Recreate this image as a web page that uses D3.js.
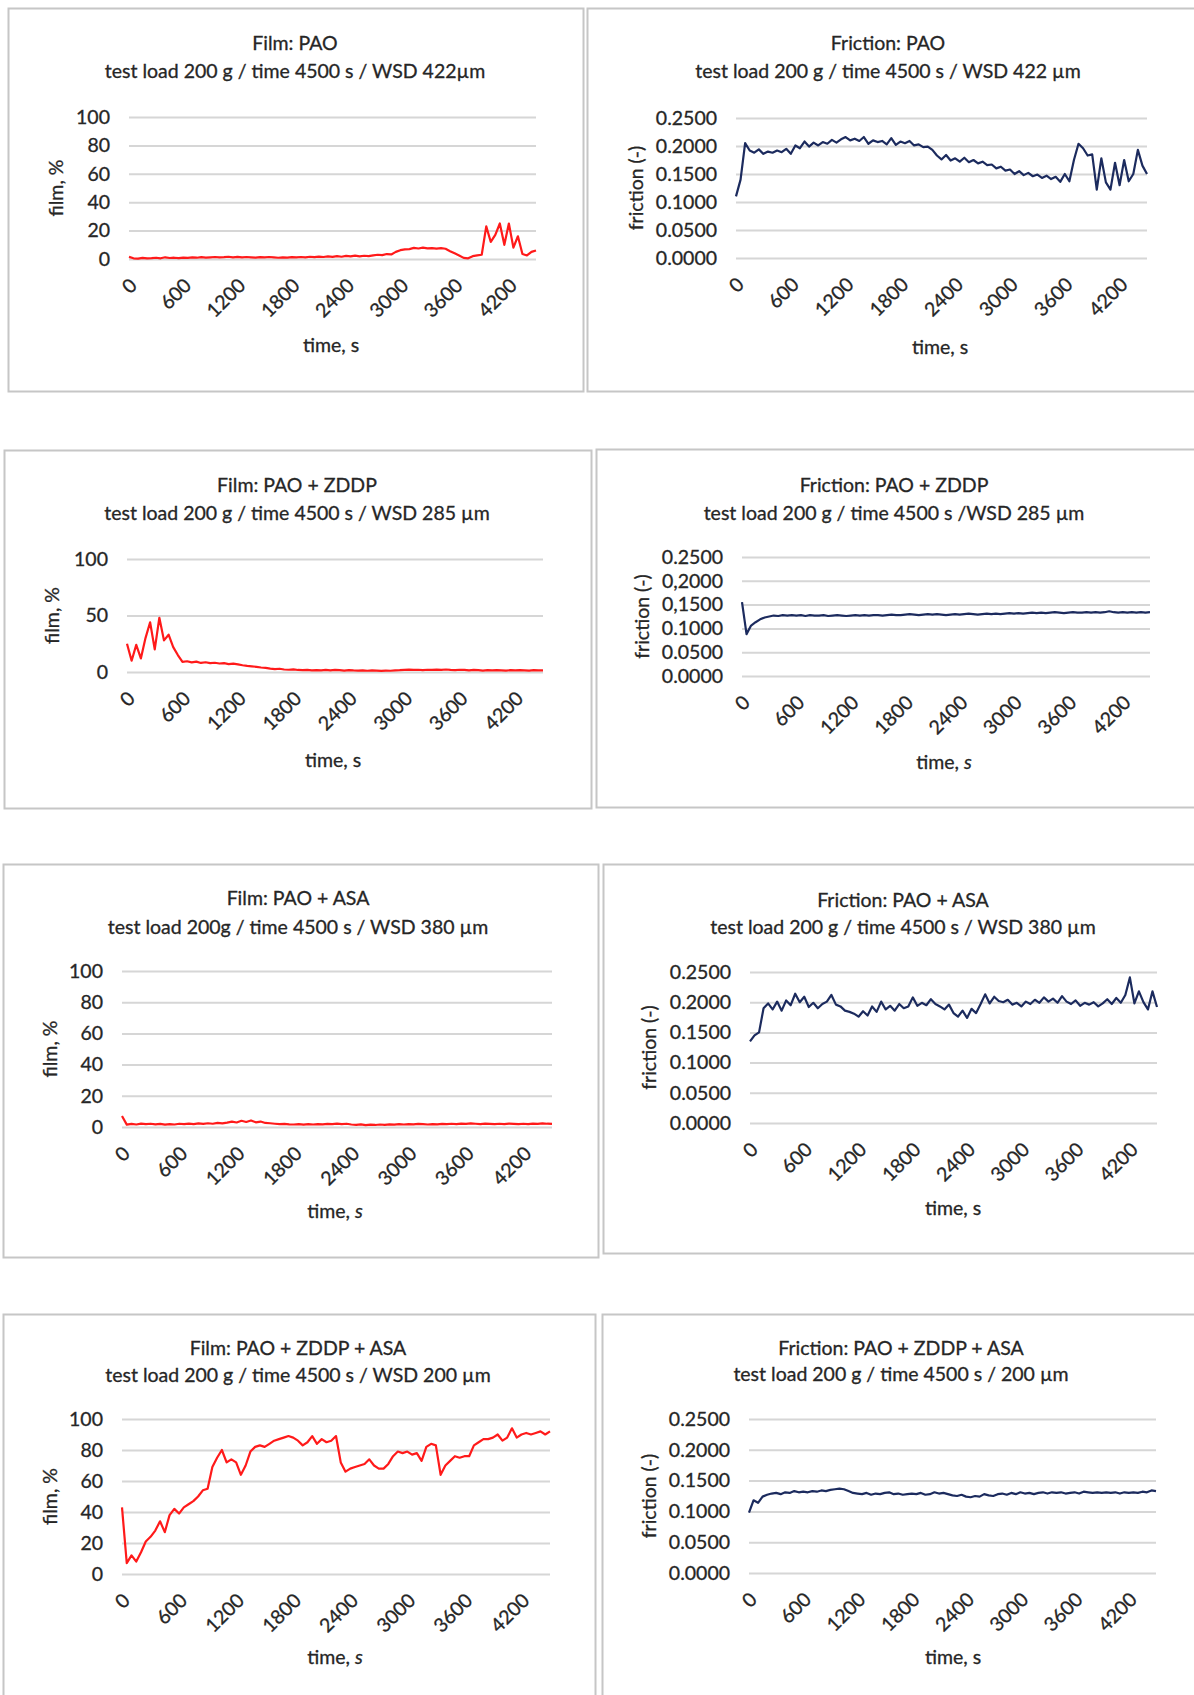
<!DOCTYPE html>
<html>
<head>
<meta charset="utf-8">
<script src="https://cdn.jsdelivr.net/npm/d3@7"></script>
<style>
  html, body { margin: 0; padding: 0; background: #ffffff; }
  svg { display: block; }
  text { font-family: Lato, "Open Sans", sans-serif; fill: #262626; stroke: #262626; stroke-width: 0.3px; }
</style>
</head>
<body>
<svg id="chart" width="1194" height="1695"></svg>
<script>
// Ball-on-disc runs, 200 g load, 4500 s; one reading every 50 s.
const TIME_MAX = 4500;
const timeTicks = [0, 600, 1200, 1800, 2400, 3000, 3600, 4200];
const filmTicks = [0, 20, 40, 60, 80, 100];
const filmTicksCoarse = [0, 50, 100];
const frictionTicks = [0, 0.05, 0.10, 0.15, 0.20, 0.25];
const frictionTickLabels = ["0.0000", "0.0500", "0.1000", "0.1500", "0.2000", "0.2500"];
const frictionTickLabelsAlt = ["0.0000", "0.0500", "0.1000", "0,1500", "0,2000", "0.2500"];

// film thickness, %
const filmPAO = [
  1.5, 0.5, 0.3, 0.8, 0.4, 0.6, 0.9, 0.5, 1.2, 0.7,
  0.9, 0.6, 1.0, 0.8, 1.1, 0.9, 1.3, 1.0, 1.2, 1.4,
  1.1, 1.3, 1.6, 1.2, 1.5, 1.1, 1.4, 1.2, 1.0, 1.3,
  1.1, 1.4, 1.2, 0.9, 1.2, 1.0, 1.3, 1.1, 1.4, 1.2,
  1.6, 1.3, 1.7, 1.4, 1.8, 1.5, 2.0, 1.6, 2.2, 1.8,
  2.4, 1.9, 2.3, 2.0, 2.6, 3.0, 2.7, 3.5, 3.2, 5.0,
  6.2, 6.8, 7.0, 7.8, 7.4, 8.0, 7.5, 7.7, 7.3, 7.6,
  7.2, 5.5, 4.0, 2.5, 0.8, 0.5, 2.0, 2.5, 3.0, 23.0,
  12.0, 17.0, 25.0, 10.0, 25.0, 8.0, 16.0, 3.5, 2.5, 5.0,
  6.0
];
const filmZDDP = [
  25, 10, 24, 12, 30, 44, 20, 48, 28, 33,
  22, 15, 9, 9.5, 8.5, 9.2, 8.0, 8.6, 7.8, 8.2,
  7.5, 7.8, 7.0, 7.4, 6.8, 6.0, 5.4, 5.0, 4.6, 4.0,
  3.6, 3.0, 2.6, 2.9, 2.2, 2.0, 2.4, 1.8, 1.6, 1.9,
  1.5, 1.7, 1.4, 1.8, 1.5, 1.9, 1.6, 1.3, 1.7, 1.4,
  1.2, 1.5, 1.1, 1.4, 1.2, 1.0, 1.3, 1.1, 1.4, 1.6,
  1.9, 2.1, 1.8, 2.0, 1.7, 2.0, 1.8, 2.1, 1.9, 2.2,
  1.9, 1.7, 2.0, 1.8, 1.5, 1.8, 1.6, 1.3, 1.6, 1.4,
  1.7, 1.5, 1.3, 1.6, 1.4, 1.7, 1.5, 1.3, 1.6, 1.4,
  1.5
];
const filmASA = [
  7.0, 1.5, 2.0, 1.6, 2.2, 1.8, 2.1, 1.7, 2.0, 1.5,
  1.9, 1.6, 2.1, 1.8, 2.2, 1.9, 2.3, 2.0, 2.4, 2.1,
  2.6, 2.3, 2.8, 3.4, 2.9, 4.0, 3.2, 4.2, 3.0, 3.5,
  2.6, 2.4, 2.1, 1.8, 2.0, 1.7, 1.6, 1.9, 1.5, 1.8,
  1.6, 1.9, 1.7, 2.0, 1.8, 2.2, 1.9, 2.1, 1.6, 1.4,
  1.7, 1.2, 1.5, 1.3, 1.6, 1.4, 1.7, 1.5, 1.8, 1.6,
  1.9, 1.7, 2.0, 1.8, 1.6, 1.9, 1.7, 2.0, 1.8, 2.1,
  1.9, 2.2, 2.0, 2.3, 2.1, 1.9, 2.2, 2.0, 1.8, 2.1,
  1.9, 2.2, 2.0, 1.8, 2.1, 1.9, 2.2, 2.0, 2.3, 2.1,
  2.0
];
const filmZDDPASA = [
  43, 7, 12, 8, 14, 21, 24, 28, 34, 27,
  38, 42, 39, 43, 45, 47, 50, 54, 55, 69,
  75, 80, 72, 74, 72, 64, 70, 79, 82, 83,
  82, 84, 86, 87, 88, 89, 88, 86, 83, 85,
  89, 84, 87, 85, 86, 89, 72, 66, 68, 69,
  70, 71, 74, 70, 68, 68, 71, 76, 79, 78,
  79, 77, 78, 73, 82, 84, 83, 64, 70, 73,
  76, 75, 76, 76, 83, 85, 87, 87, 88, 90,
  86, 88, 94, 88, 90, 91, 90, 91, 92, 90,
  92
];

// friction coefficient, -
const frictionPAO = [
  0.110, 0.140, 0.205, 0.192, 0.188, 0.194, 0.186, 0.190, 0.188, 0.192,
  0.189, 0.195, 0.186, 0.201, 0.196, 0.208, 0.199, 0.206, 0.201, 0.207,
  0.204, 0.211, 0.206, 0.212, 0.216, 0.210, 0.213, 0.209, 0.216, 0.204,
  0.210, 0.207, 0.209, 0.203, 0.214, 0.202, 0.208, 0.205, 0.209, 0.201,
  0.203, 0.198, 0.199, 0.193, 0.183, 0.176, 0.184, 0.174, 0.178, 0.172,
  0.179, 0.171, 0.175, 0.169, 0.172, 0.166, 0.167, 0.160, 0.163, 0.156,
  0.158, 0.150, 0.155, 0.148, 0.152, 0.146, 0.149, 0.143, 0.147, 0.141,
  0.145, 0.136, 0.150, 0.137, 0.175, 0.204, 0.196, 0.183, 0.185, 0.122,
  0.178, 0.135, 0.122, 0.170, 0.130, 0.175, 0.137, 0.150, 0.193, 0.165,
  0.150
];
const frictionZDDP = [
  0.155, 0.088, 0.106, 0.113, 0.119, 0.123, 0.125, 0.127, 0.126, 0.128,
  0.127, 0.128, 0.127, 0.128, 0.126, 0.128, 0.127, 0.127, 0.128, 0.126,
  0.127, 0.128, 0.127, 0.126, 0.127, 0.128, 0.127, 0.128, 0.127, 0.128,
  0.128, 0.127, 0.128, 0.129, 0.128, 0.128, 0.129, 0.130, 0.129, 0.128,
  0.129, 0.130, 0.129, 0.130, 0.129, 0.128, 0.129, 0.130, 0.129, 0.130,
  0.131, 0.130, 0.129, 0.130, 0.131, 0.130, 0.131, 0.130, 0.131, 0.132,
  0.131, 0.132, 0.131, 0.132, 0.133, 0.132, 0.133, 0.132, 0.133, 0.134,
  0.133, 0.132, 0.133, 0.134, 0.133, 0.133, 0.134, 0.133, 0.134, 0.133,
  0.134, 0.136, 0.134, 0.133, 0.134, 0.133, 0.134, 0.133, 0.134, 0.133,
  0.134
];
const frictionASA = [
  0.135, 0.145, 0.150, 0.190, 0.198, 0.188, 0.201, 0.186, 0.203, 0.195,
  0.214, 0.200, 0.209, 0.192, 0.199, 0.190, 0.197, 0.201, 0.212, 0.196,
  0.193, 0.186, 0.184, 0.181, 0.176, 0.185, 0.178, 0.193, 0.184, 0.201,
  0.188, 0.194, 0.186, 0.197, 0.190, 0.193, 0.208, 0.194, 0.199, 0.195,
  0.205, 0.197, 0.193, 0.188, 0.196, 0.182, 0.176, 0.186, 0.174, 0.189,
  0.182, 0.197, 0.213, 0.198, 0.209, 0.202, 0.200, 0.204, 0.196, 0.199,
  0.193, 0.201, 0.197, 0.204, 0.199, 0.208, 0.201, 0.206, 0.199, 0.210,
  0.201, 0.197, 0.203, 0.194, 0.199, 0.196, 0.200, 0.193, 0.198, 0.205,
  0.197, 0.207, 0.199, 0.212, 0.241, 0.198, 0.218, 0.200, 0.188, 0.218,
  0.192
];
const frictionZDDPASA = [
  0.098, 0.118, 0.114, 0.124, 0.127, 0.129, 0.130, 0.128, 0.131, 0.130,
  0.133, 0.131, 0.132, 0.131, 0.133, 0.132, 0.134, 0.133, 0.135, 0.136,
  0.137, 0.136, 0.133, 0.130, 0.129, 0.128, 0.130, 0.127, 0.129, 0.128,
  0.130, 0.131, 0.128, 0.129, 0.127, 0.128, 0.129, 0.128, 0.130, 0.127,
  0.128, 0.131, 0.129, 0.130, 0.128, 0.126, 0.125, 0.127, 0.124, 0.123,
  0.125, 0.124, 0.128, 0.126, 0.125, 0.128, 0.129, 0.127, 0.130, 0.128,
  0.131, 0.129, 0.130, 0.128, 0.130, 0.131, 0.129, 0.131, 0.130, 0.131,
  0.129, 0.130, 0.131, 0.129, 0.132, 0.131, 0.130, 0.131, 0.130, 0.131,
  0.130, 0.131, 0.129, 0.131, 0.130, 0.131, 0.130, 0.132, 0.131, 0.134,
  0.133
];

const FILM_COLOR = "#ff1a1a";
const FRICTION_COLOR = "#1c2b5e";
const FONT_SIZE = 19.5;
const FONT_FAMILY = "Lato, 'Open Sans', sans-serif";

// Panel layout: frame box, plot rectangle and label anchors (px).
const panels = [
  { title: "Film: PAO", sub: "test load 200 g / time 4500 s / WSD 422µm",
    values: filmPAO, yMax: 100, yTicks: filmTicks, yLabels: null, yTitle: "film, %", color: FILM_COLOR,
    box: [8, 8, 583, 391], plot: [129, 117, 536, 259], titleX: 295, titleY: [43, 71],
    yTitleX: 56, xTitleX: 331, xTitleY: 345, italicUnit: false },
  { title: "Friction: PAO", sub: "test load 200 g / time 4500 s / WSD 422 µm",
    values: frictionPAO, yMax: 0.25, yTicks: frictionTicks, yLabels: frictionTickLabels, yTitle: "friction (-)", color: FRICTION_COLOR,
    box: [587, 8, 1204, 391], plot: [736, 118, 1147, 258], titleX: 888, titleY: [43, 71],
    yTitleX: 636, xTitleX: 940, xTitleY: 347, italicUnit: false },
  { title: "Film: PAO + ZDDP", sub: "test load 200 g / time 4500 s / WSD 285 µm",
    values: filmZDDP, yMax: 100, yTicks: filmTicksCoarse, yLabels: null, yTitle: "film, %", color: FILM_COLOR,
    box: [4, 450, 591, 808], plot: [127, 559, 543, 672], titleX: 297, titleY: [485, 513],
    yTitleX: 52, xTitleX: 333, xTitleY: 760, italicUnit: false },
  { title: "Friction: PAO + ZDDP", sub: "test load 200 g / time 4500 s /WSD 285 µm",
    values: frictionZDDP, yMax: 0.25, yTicks: frictionTicks, yLabels: frictionTickLabelsAlt, yTitle: "friction (-)", color: FRICTION_COLOR,
    box: [596, 449, 1204, 807], plot: [742, 557, 1150, 676], titleX: 894, titleY: [485, 513],
    yTitleX: 642, xTitleX: 944, xTitleY: 762, italicUnit: true },
  { title: "Film: PAO + ASA", sub: "test load 200g / time 4500 s / WSD 380 µm",
    values: filmASA, yMax: 100, yTicks: filmTicks, yLabels: null, yTitle: "film, %", color: FILM_COLOR,
    box: [3, 864, 598, 1257], plot: [122, 971, 552, 1127], titleX: 298, titleY: [898, 927],
    yTitleX: 50, xTitleX: 335, xTitleY: 1211, italicUnit: true },
  { title: "Friction: PAO + ASA", sub: "test load 200 g / time 4500 s / WSD 380 µm",
    values: frictionASA, yMax: 0.25, yTicks: frictionTicks, yLabels: frictionTickLabels, yTitle: "friction (-)", color: FRICTION_COLOR,
    box: [603, 864, 1204, 1253], plot: [750, 972, 1157, 1123], titleX: 903, titleY: [900, 927],
    yTitleX: 649, xTitleX: 953, xTitleY: 1208, italicUnit: false },
  { title: "Film: PAO + ZDDP + ASA", sub: "test load 200 g / time 4500 s / WSD 200 µm",
    values: filmZDDPASA, yMax: 100, yTicks: filmTicks, yLabels: null, yTitle: "film, %", color: FILM_COLOR,
    box: [3, 1314, 595, 1705], plot: [122, 1419, 550, 1574], titleX: 298, titleY: [1348, 1375],
    yTitleX: 50, xTitleX: 335, xTitleY: 1657, italicUnit: true },
  { title: "Friction: PAO + ZDDP + ASA", sub: "test load 200 g / time 4500 s / 200 µm",
    values: frictionZDDPASA, yMax: 0.25, yTicks: frictionTicks, yLabels: frictionTickLabels, yTitle: "friction (-)", color: FRICTION_COLOR,
    box: [602, 1314, 1204, 1705], plot: [749, 1419, 1156, 1573], titleX: 901, titleY: [1348, 1374],
    yTitleX: 649, xTitleX: 953, xTitleY: 1657, italicUnit: false }
];

const svg = d3.select("#chart");

panels.forEach(p => {
  const g = svg.append("g");
  const [bx0, by0, bx1, by1] = p.box;
  const [px0, py0, px1, py1] = p.plot;

  // frame
  g.append("rect")
    .attr("x", bx0 + 0.5).attr("y", by0 + 0.5)
    .attr("width", bx1 - bx0).attr("height", by1 - by0)
    .attr("fill", "#ffffff").attr("stroke", "#c6c6c6").attr("stroke-width", 2);

  const x = d3.scaleLinear().domain([0, TIME_MAX]).range([px0, px1]);
  const y = d3.scaleLinear().domain([0, p.yMax]).range([py1, py0]);

  // value axis with gridlines
  const yAxis = d3.axisLeft(y)
    .tickValues(p.yTicks)
    .tickSize(-(px1 - px0))
    .tickPadding(19)
    .tickFormat((d, i) => p.yLabels ? p.yLabels[i] : d3.format("d")(d));
  const yg = g.append("g").attr("transform", `translate(${px0},0)`).call(yAxis);
  yg.select(".domain").remove();
  yg.selectAll(".tick line").attr("stroke", "#d6d6d6").attr("stroke-width", 2);
  yg.selectAll(".tick text")
    .attr("font-size", FONT_SIZE).attr("fill", "#262626")
    .style("font-family", FONT_FAMILY);

  // time axis, labels slanted at 45 degrees
  const xAxis = d3.axisBottom(x).tickValues(timeTicks).tickSize(0).tickFormat(d3.format("d"));
  const xg = g.append("g").attr("transform", `translate(0,${py1})`).call(xAxis);
  xg.select(".domain").remove();
  xg.selectAll(".tick text")
    .attr("font-size", FONT_SIZE).attr("fill", "#262626")
    .style("font-family", FONT_FAMILY)
    .attr("text-anchor", "end")
    .attr("y", 0).attr("dy", "0.35em")
    .attr("transform", "translate(4,23) rotate(-45)");

  // measured trace
  const step = TIME_MAX / (p.values.length - 1);
  const line = d3.line()
    .x((d, i) => x(i * step))
    .y(d => y(d));
  g.append("path")
    .datum(p.values)
    .attr("d", line)
    .attr("fill", "none")
    .attr("stroke", p.color)
    .attr("stroke-width", 2.2)
    .attr("stroke-linejoin", "round");

  // titles
  g.append("text").attr("x", p.titleX).attr("y", p.titleY[0])
    .attr("text-anchor", "middle").attr("dy", "0.35em").attr("font-size", FONT_SIZE).text(p.title);
  g.append("text").attr("x", p.titleX).attr("y", p.titleY[1])
    .attr("text-anchor", "middle").attr("dy", "0.35em").attr("font-size", FONT_SIZE).text(p.sub);

  // axis titles
  g.append("text")
    .attr("transform", `translate(${p.yTitleX},${(py0 + py1) / 2}) rotate(-90)`)
    .attr("text-anchor", "middle").attr("dy", "0.35em").attr("font-size", FONT_SIZE)
    .text(p.yTitle);
  const xt = g.append("text").attr("x", p.xTitleX).attr("y", p.xTitleY)
    .attr("text-anchor", "middle").attr("dy", "0.35em").attr("font-size", FONT_SIZE);
  xt.append("tspan").text("time, ");
  xt.append("tspan").attr("font-style", p.italicUnit ? "italic" : "normal").text("s");
});
</script>
</body>
</html>
